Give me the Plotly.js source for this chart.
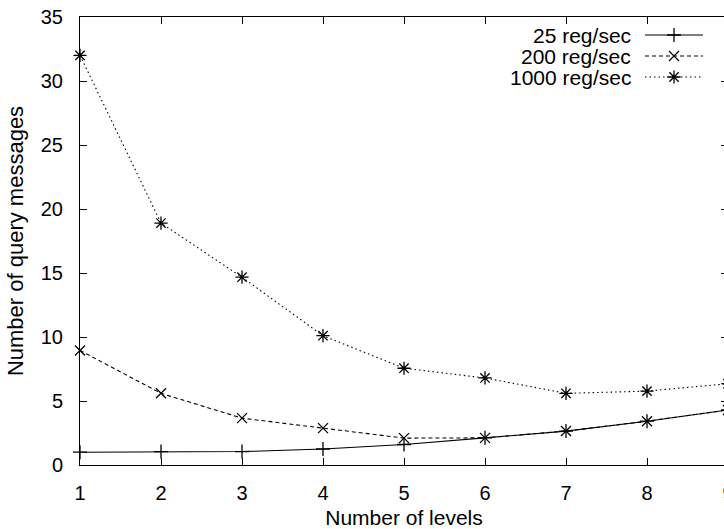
<!DOCTYPE html>
<html>
<head>
<meta charset="utf-8">
<script src="https://cdn.plot.ly/plotly-3.0.1.min.js"></script>
<style>
html,body{margin:0;padding:0;overflow:hidden;background:#fff;}
#chart{width:735px;height:529px;}
</style>
</head>
<body>
<div id="chart"></div>
<script>
// Data
const levels = [1, 2, 3, 4, 5, 6, 7, 8, 9];
const seriesNames = ["25 reg/sec", "200 reg/sec", "1000 reg/sec"];
const reg25 = [1.0, 1.05, 1.05, 1.25, 1.6, 2.12, 2.65, 3.42, 4.3];
const reg200 = [8.95, 5.6, 3.66, 2.88, 2.1, 2.12, 2.65, 3.42, 4.3];
const reg1000 = [32.0, 18.9, 14.67, 10.1, 7.56, 6.8, 5.6, 5.77, 6.35];
const xTicks = [1, 2, 3, 4, 5, 6, 7, 8, 9];
const yTicks = [0, 5, 10, 15, 20, 25, 30, 35];

const FONT = "Liberation Sans, Arial, Helvetica, sans-serif";
const styles = [
  {dash: "solid", symbol: "cross-thin", size: 10},
  {dash: "4px,3px", symbol: "x-thin", size: 10},
  {dash: "1.5px,3px", symbol: "asterisk", size: 11}
];
const values = [reg25, reg200, reg1000];

const traces = values.map((v, i) => ({
  x: levels, y: v, type: "scatter", mode: "lines+markers", name: seriesNames[i],
  line: {color: "#000", width: 1.1, dash: styles[i].dash},
  marker: {symbol: styles[i].symbol, size: styles[i].size, color: "#000",
           line: {color: "#000", width: 1.3}},
  cliponaxis: false, showlegend: false
}));

// gnuplot-style key (text on the left, sample on the right), drawn on a pixel-scaled overlay axis
const keyRows = [35, 56, 77];
const keyLineX = [645, 674, 703];
const annotations = [];
values.forEach((v, i) => {
  traces.push({
    x: keyLineX, y: [keyRows[i], keyRows[i], keyRows[i]], xaxis: "x2", yaxis: "y2",
    type: "scatter", mode: "lines", showlegend: false, hoverinfo: "skip",
    line: {color: "#000", width: 1.1, dash: styles[i].dash}
  });
  traces.push({
    x: [keyLineX[1]], y: [keyRows[i]], xaxis: "x2", yaxis: "y2",
    type: "scatter", mode: "markers", showlegend: false, hoverinfo: "skip",
    marker: {symbol: styles[i].symbol, size: styles[i].size, color: "#000",
             line: {color: "#000", width: 1.3}}
  });
  annotations.push({
    x: 633, y: keyRows[i], xref: "x2", yref: "y2", text: seriesNames[i],
    showarrow: false, xanchor: "right", yanchor: "middle",
    font: {family: FONT, size: 21, color: "#000"}
  });
});

const layout = {
  width: 735, height: 529,
  margin: {l: 80, r: 7, t: 17, b: 64},
  paper_bgcolor: "#fff", plot_bgcolor: "#fff",
  font: {family: FONT, size: 20, color: "#000"},
  showlegend: false,
  xaxis: {
    range: [1, 9], tickvals: xTicks, ticktext: xTicks.map(String),
    showgrid: false, zeroline: false, showline: true, linecolor: "#000", linewidth: 1,
    mirror: "ticks", ticks: "inside", ticklen: 7, tickwidth: 1, tickcolor: "#000",
    ticklabelstandoff: 10,
    title: {text: "Number of levels", font: {family: FONT, size: 21}, standoff: 8}
  },
  yaxis: {
    range: [0, 35], tickvals: yTicks, ticktext: yTicks.map(String),
    showgrid: false, zeroline: false, showline: true, linecolor: "#000", linewidth: 1,
    mirror: "ticks", ticks: "inside", ticklen: 7, tickwidth: 1, tickcolor: "#000",
    ticklabelstandoff: 12,
    title: {text: "Number of query messages", font: {family: FONT, size: 22}, standoff: 11}
  },
  xaxis2: {overlaying: "x", anchor: "y2", range: [80, 728], visible: false, fixedrange: true},
  yaxis2: {overlaying: "y", anchor: "x2", range: [465, 17], visible: false, fixedrange: true},
  annotations: annotations
};

Plotly.newPlot("chart", traces, layout, {staticPlot: true, displayModeBar: false});
</script>
</body>
</html>
